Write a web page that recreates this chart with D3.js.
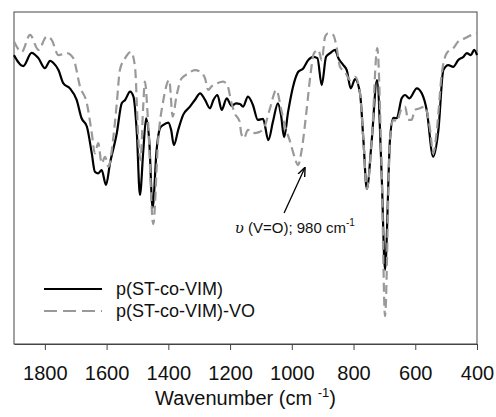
<!DOCTYPE html>
<html>
<head>
<meta charset="utf-8">
<script src="https://cdn.jsdelivr.net/npm/d3@7"></script>
<style>
  body { margin: 0; background: #fff; }
  text { font-family: "Liberation Sans", Arial, sans-serif; }
</style>
</head>
<body>
<div id="chart"></div>
<script>
// wavenumber (cm-1) and transmittance (a.u.)
var wn_base = [1900,1870,1843,1821,1800,1783,1773,1756,1740,1719,1697,1681,1664,1648,1638,1627,1616,1602,1589,1567,1551,1540,1524,1513,1502,1492,1481,1472,1462,1451,1438,1427,1416,1400,1391,1382,1368,1352,1330,1314,1297,1281,1265,1254,1241,1227,1211,1195,1181,1168,1158,1142,1126,1110,1093,1076,1061,1045,1035,1025,1012,996,979,963,947,930,917,903,889,876,860,849,833,822,809,795,779,768,757,741,724,709,698,682,671,660,644,633,619,595,579,563,542,525,509,493,477,461,444,433,420,409,400]
var t_base = [87.0,83.7,87.7,86.1,83.1,85.3,84.7,82.5,78.5,77.0,73.5,68.0,65.5,57.4,51.9,51.4,52.4,47.9,54.4,63.5,72.5,73.5,76.0,74.5,63.5,44.9,58.4,68.0,61.4,41.0,58.4,65.0,66.0,66.7,64.5,59.9,64.5,69.0,71.5,73.5,75.5,73.5,71.0,73.5,75.0,70.5,74.0,71.7,72.5,72.3,71.5,74.5,72.0,67.5,67.8,61.4,67.0,72.5,69.0,62.3,69.9,77.5,82.0,83.0,85.5,86.5,86.1,78.0,86.5,87.6,88.6,86.1,84.0,82.5,77.0,79.8,75.5,61.4,46.7,61.4,79.5,51.4,22.3,61.4,68.1,68.0,74.0,75.0,74.0,77.0,75.5,70.5,56.4,64.5,82.5,84.0,83.5,85.5,86.5,87.6,87.0,88.6,87.0]

var wn_vo = [1900,1875,1848,1821,1794,1778,1756,1729,1708,1686,1664,1648,1638,1627,1616,1605,1594,1578,1567,1557,1540,1521,1508,1497,1490,1482,1476,1466,1449,1433,1416,1397,1386,1373,1357,1335,1314,1297,1281,1271,1259,1243,1222,1209,1195,1185,1169,1164,1155,1142,1126,1104,1088,1072,1050,1034,1022,1007,991,980,968,952,939,928,914,903,892,882,866,855,844,828,811,795,779,768,757,741,723,709,698,682,671,660,644,633,623,612,601,585,569,552,542,531,514,498,477,461,439,417,400]
var t_vo = [91.1,88.0,93.1,88.6,92.6,91.6,87.0,87.6,86.1,77.5,72.5,63.5,57.4,60.5,54.4,56.4,53.4,62.4,72.5,82.5,86.1,88.0,83.5,61.4,55.4,70.5,79.0,67.5,36.1,61.4,73.5,79.5,68.5,75.0,80.0,81.5,82.5,82.0,80.0,76.5,77.7,78.5,79.0,78.0,72.5,69.5,67.0,63.5,62.0,64.5,63.5,63.9,65.5,70.5,76.5,70.5,65.5,61.4,56.3,53.9,58.4,70.5,81.5,87.6,88.6,85.5,92.6,93.6,93.1,89.5,83.5,82.0,79.5,80.5,75.5,61.4,46.7,61.4,89.1,52.4,8.4,61.4,67.5,67.0,71.0,71.5,67.5,67.5,70.5,71.0,71.5,64.5,57.4,63.5,81.5,87.6,89.1,91.1,92.1,93.1,93.6]

var x_ticks = [1800, 1600, 1400, 1200, 1000, 800, 600, 400]
var series_names = ["p(ST-co-VIM)", "p(ST-co-VIM)-VO"]

var width = 496, height = 417
var margins = {top: 12, right: 19, bottom: 73, left: 14}
var inner_width = width - margins.left - margins.right
var inner_height = height - margins.top - margins.bottom

var svg = d3.select("#chart").append("svg")
            .attr("width", width)
            .attr("height", height)

var g = svg.append("g")
           .attr("transform", "translate(" + margins.left + "," + margins.top + ")")

var scalex = d3.scaleLinear()
               .domain([1900, 400]) // wavenumber decreasing to the right
               .range([0, inner_width])

var scaley = d3.scaleLinear()
               .domain([0, 100])
               .range([inner_height, 0])

// frame
g.append("rect")
  .attr("width", inner_width)
  .attr("height", inner_height)
  .attr("fill", "none")
  .attr("stroke", "#444")
  .attr("stroke-width", 1)

var xaxis = g.append("g")
  .attr("transform", "translate(0," + inner_height + ")")
  .call(d3.axisBottom(scalex).tickValues(x_ticks).tickFormat(d3.format("d"))
          .tickSize(6).tickPadding(16).tickSizeOuter(0))
xaxis.select(".domain").attr("stroke", "#444")
xaxis.selectAll(".tick line").attr("stroke", "#444")
xaxis.selectAll("text")
  .attr("font-size", 20)
  .attr("font-family", "Liberation Sans, Arial, sans-serif")
  .attr("fill", "#111")

var linegenerator = d3.line()
                      .x(function (d) { return scalex(d[0]) })
                      .y(function (d) { return scaley(d[1]) })
                      .curve(d3.curveMonotoneX)

var base_pts = d3.zip(wn_base, t_base)
var vo_pts = d3.zip(wn_vo, t_vo)

g.append("path")
  .attr("d", linegenerator(base_pts))
  .attr("stroke", "#000")
  .attr("stroke-width", 2.2)
  .attr("fill", "none")

g.append("path")
  .attr("d", linegenerator(vo_pts))
  .attr("stroke", "#999")
  .attr("stroke-width", 2.2)
  .attr("stroke-dasharray", "9,5")
  .attr("fill", "none")

// annotation arrow
svg.append("defs").append("marker")
  .attr("id", "arrow")
  .attr("viewBox", "0 0 10 10")
  .attr("refX", 9).attr("refY", 5)
  .attr("markerWidth", 7).attr("markerHeight", 7)
  .attr("orient", "auto")
  .append("path")
  .attr("d", "M0,1 L10,5 L0,9")
  .attr("fill", "none")
  .attr("stroke", "#000")
  .attr("stroke-width", 1.5)

g.append("line")
  .attr("x1", scalex(1025)).attr("y1", 201)
  .attr("x2", scalex(958)).attr("y2", 156)
  .attr("stroke", "#000")
  .attr("stroke-width", 1.3)
  .attr("marker-end", "url(#arrow)")

var note = g.append("text")
  .attr("x", scalex(1185))
  .attr("y", 221)
  .attr("font-size", 15)
  .attr("fill", "#111")
note.append("tspan")
  .attr("font-family", "DejaVu Serif, serif")
  .attr("font-style", "italic")
  .text("\u03C5")
note.append("tspan").text(" (V=O); 980 cm")
note.append("tspan").attr("font-size", 10).attr("dy", -7).text("-1")

// legend
var legend = g.append("g")
var leg_styles = [{stroke: "#000", dash: null}, {stroke: "#999", dash: "13,6"}]
series_names.forEach(function (name, i) {
  var yy = 277 + i * 22
  legend.append("line")
    .attr("x1", 30).attr("x2", 88)
    .attr("y1", yy).attr("y2", yy)
    .attr("stroke", leg_styles[i].stroke)
    .attr("stroke-width", 2.2)
    .attr("stroke-dasharray", leg_styles[i].dash)
  legend.append("text")
    .attr("x", 102).attr("y", yy)
    .attr("dy", "0.35em")
    .attr("font-size", 18)
    .attr("fill", "#111")
    .text(name)
})

// x axis title
var title = svg.append("text")
  .attr("x", margins.left + inner_width / 2)
  .attr("y", 405)
  .attr("text-anchor", "middle")
  .attr("font-size", 20)
  .attr("fill", "#111")
title.append("tspan").text("Wavenumber (cm ")
title.append("tspan").attr("font-size", 13).attr("dy", -8).text("-1")
title.append("tspan").attr("dy", 8).text(")")
</script>
</body>
</html>
